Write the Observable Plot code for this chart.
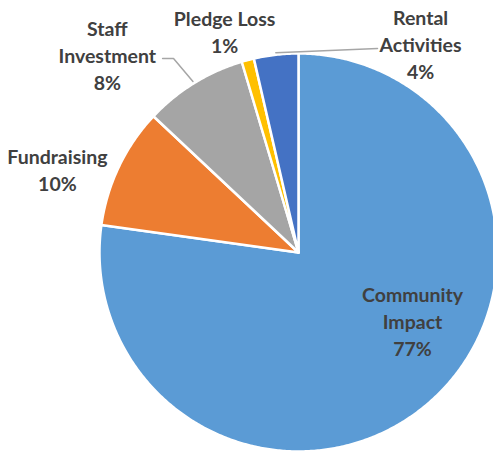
<!DOCTYPE html>
<html>
<head>
<meta charset="utf-8">
<script src="https://cdn.jsdelivr.net/npm/d3@7"></script>
<script src="https://cdn.jsdelivr.net/npm/@observablehq/plot@0.6"></script>
<style>
  html, body { margin: 0; padding: 0; background: #fff; }
  #chart { width: 493px; height: 454px; overflow: hidden; }
</style>
</head>
<body>
<div id="chart"></div>
<script>
// ---- data ----
const categories = ["Community Impact", "Fundraising", "Staff Investment", "Pledge Loss", "Rental Activities"];
const shares = [77.2, 9.8, 8.4, 1.0, 3.6];
const pctLabels = ["77%", "10%", "8%", "1%", "4%"];
const nameLines = ["Community\nImpact", "Fundraising", "Staff\nInvestment", "Pledge Loss", "Rental\nActivities"];
const colors = ["#5B9BD5", "#ED7D31", "#A5A5A5", "#FFC000", "#4472C4"];

// ---- label placement (polar: degrees clockwise from 12 o'clock, radius in pie radii) ----
const labelPolar = [[120.8, 0.667], [289.2, 1.283], [316, 1.383], [341.6, 1.176], [30.3, 1.216]];
// leader lines: extra points after the slice edge point (in pie-radius units)
const leaders = {
  "Staff Investment": [[-0.628, 0.975], [-0.683, 0.975]],
  "Rental Activities": [[0.397, 1.025]]
};

// ---- layout ----
const W = 493, H = 454, R = 199, CX = 298, CY = 252;

const rows = categories.map((name, i) => ({name, share: shares[i], pct: pctLabels[i], lines: nameLines[i]}));
const arcs = d3.pie().sort(null).value(d => d.share)(rows);

// slice polygons
const slicePts = [];
arcs.forEach(a => {
  const name = a.data.name;
  slicePts.push({name, x: 0, y: 0});
  const steps = Math.max(2, Math.ceil((a.endAngle - a.startAngle) / (Math.PI / 360)));
  for (let k = 0; k <= steps; k++) {
    const t = a.startAngle + (a.endAngle - a.startAngle) * k / steps;
    slicePts.push({name, x: Math.sin(t), y: Math.cos(t)});
  }
  slicePts.push({name, x: 0, y: 0});
});

// labels
const labels = arcs.map((a, i) => {
  const [deg, rho] = labelPolar[i];
  const t = deg * Math.PI / 180;
  return {name: a.data.name, text: a.data.lines + "\n" + a.data.pct, x: rho * Math.sin(t), y: rho * Math.cos(t)};
});

// leader lines
const leaderPts = [];
arcs.forEach(a => {
  const extra = leaders[a.data.name];
  if (!extra) return;
  const mid = (a.startAngle + a.endAngle) / 2;
  leaderPts.push({name: a.data.name, x: 1.01 * Math.sin(mid), y: 1.01 * Math.cos(mid)});
  extra.forEach(([x, y]) => leaderPts.push({name: a.data.name, x, y}));
});

const chart = Plot.plot({
  width: W,
  height: H,
  margin: 0,
  x: {domain: [-CX / R, (W - CX) / R], range: [0, W], axis: null},
  y: {domain: [-(H - CY) / R, CY / R], range: [H, 0], axis: null},
  color: {domain: categories, range: colors},
  style: {background: "#fff", overflow: "hidden"},
  marks: [
    Plot.line(slicePts, {x: "x", y: "y", z: "name", fill: "name", stroke: "#fff", strokeWidth: 2.5, strokeLinejoin: "round"}),
    Plot.line(leaderPts, {x: "x", y: "y", z: "name", stroke: "#A6A6A6", strokeWidth: 1.5}),
    Plot.text(labels, {x: "x", y: "y", text: "text", fill: "#404040", fontSize: 19.5, fontWeight: "bold", fontFamily: "Lato, 'Open Sans', sans-serif", lineHeight: 1.38, textAnchor: "middle"})
  ]
});
document.getElementById("chart").appendChild(chart);
</script>
</body>
</html>
